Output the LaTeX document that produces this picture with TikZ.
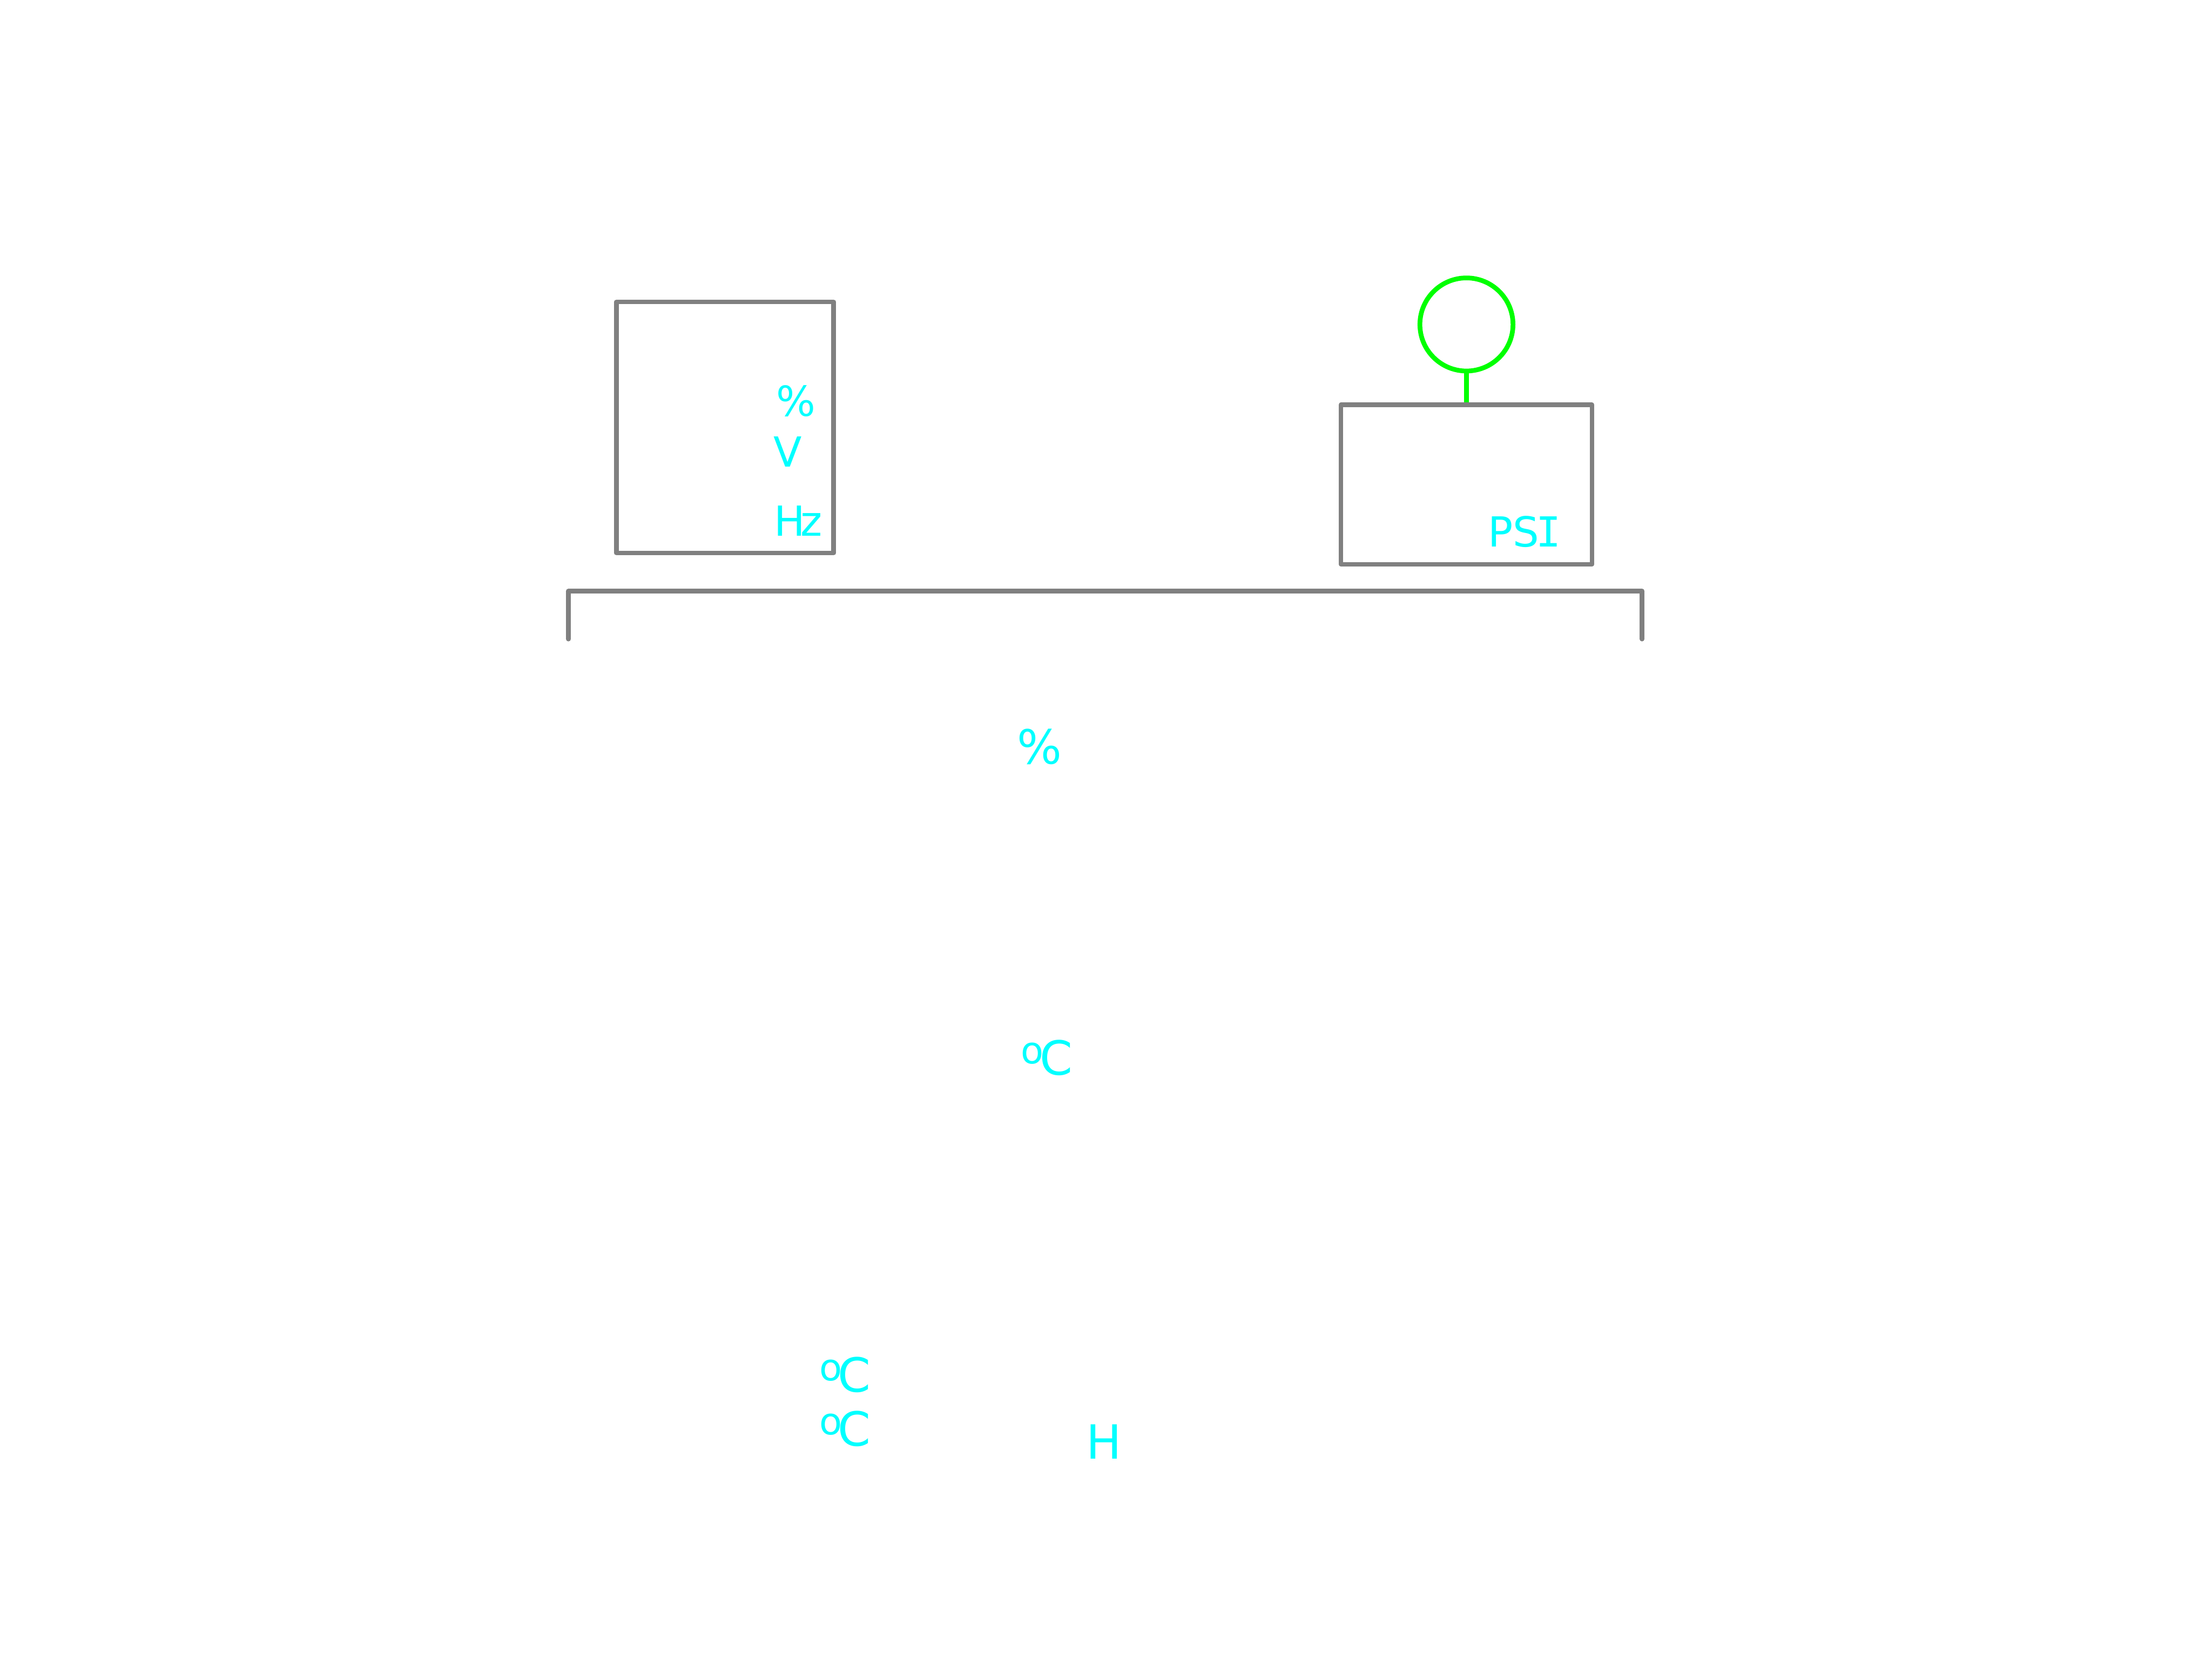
\documentclass[tikz,border=0pt]{standalone}
\usepackage{fontspec}
\setmainfont{DejaVu Sans}
\newfontfamily\barfont{DejaVu Sans Mono}
\usepackage{xcolor}
\definecolor{PanelGray}{HTML}{808080}
\definecolor{TagCyan}{HTML}{00FFFF}
\definecolor{LampGreen}{HTML}{00FF00}
\usepackage{tikz}
\usetikzlibrary{positioning}
\newcommand{\degc}{\raisebox{4.5pt}{\fontsize{15}{15}\selectfont o}\kern-0.09em C}
\tikzset{
  panel/.style={draw=PanelGray, line width=1.9pt, line join=round,
    inner sep=0pt, minimum width=#1},
  unit/.style={text=TagCyan, inner sep=0pt, anchor=base west,
    font=\fontsize{16.7}{20}\selectfont},
  bigunit/.style={unit, font=\fontsize{19}{22}\selectfont},
  lamp/.style={draw=LampGreen, line width=1.9pt, circle, inner sep=0pt,
    minimum size=1.32cm}
}

\begin{document}
\begin{tikzpicture}[x=0.02cm, y=-0.02cm]
\useasboundingbox (0,0) rectangle (1568,1176);

% meter and gauge boxes
\node[panel=3.08cm, minimum height=3.56cm] (meter) at (514,303) {};
\node[panel=3.56cm, minimum height=2.26cm] (gauge) at (1039.5,343.5) {};
\node[lamp] (bulb) at (1039.5,230) {};
\draw[LampGreen, line width=1.9pt] (bulb.south) -- (gauge.north);

% base rail
\coordinate (railL) at (403,453);
\coordinate (railR) at (1164,453);
\draw[PanelGray, line width=1.9pt, line join=round, line cap=round]
  (railL) -- ++(0,-34) -| (railR);

% unit tags
\node[unit] (pct1) at (550,295) {\%};
\node[unit] (volt) at (548,331) {V};
\node[unit] (freq) at (548.5,380) {H\kern-0.12em z};
\node[unit] (psi)  at (1054.5,387.5) {PS\kern-0.08em{\barfont I}};
\node[bigunit] (pct2) at (720.5,541.5) {\%};
\node[bigunit] (degA) at (723.5,762) {\degc};
\node[bigunit] (degB) at (580.5,986.5) {\degc};
\node[bigunit] (degC) at (580.5,1025) {\degc};
\node[bigunit] (hrs)  at (769.5,1034) {H};
\end{tikzpicture}
\end{document}
